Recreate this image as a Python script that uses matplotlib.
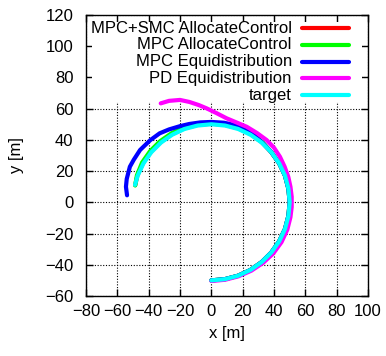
import numpy as np
import matplotlib.pyplot as plt
from matplotlib.patches import Rectangle

plt.rcParams['font.family'] = ['Liberation Sans', 'DejaVu Sans']

# trajectories (x, y in metres)
target_x = [0, 8.7, 17.1, 25, 32.1, 38.3, 43.3, 47.0, 49.2, 50, 49.2, 47.0, 43.3, 38.3, 32.1,
            25, 17.1, 8.7, 0, -8.7, -17.1, -25, -32.1, -38.3, -43.3, -47.0, -48.7]
target_y = [-50, -49.2, -47.0, -43.3, -38.3, -32.1, -25, -17.1, -8.7, 0, 8.7, 17.1, 25, 32.1, 38.3,
            43.3, 47.0, 49.2, 50, 49.2, 47.0, 43.3, 38.3, 32.1, 25, 17.1, 11.2]

smc_x = [0, 8.7, 17.1, 25, 32.1, 38.3, 43.3, 47.0, 49.2, 50, 49.2, 47.0, 43.3, 38.3, 32.3,
         25.2, 17.2, 8.8, 0, -8.8, -17.2, -25.2, -32.4, -38.6, -43.6, -47.2, -48.6]
smc_y = [-50, -49.2, -47.0, -43.3, -38.3, -32.1, -25, -17.1, -8.7, 0, 8.7, 17.1, 25, 32.1, 38.5,
         43.7, 47.4, 49.6, 50.4, 49.6, 47.4, 43.7, 38.6, 32.4, 25.2, 17.2, 11.0]

mpc_ac_x = [0, 8.7, 17.1, 25, 32.1, 38.3, 43.3, 47.0, 49.2, 50, 49.2, 47.0, 43.3, 38.3, 32.5,
            25.5, 17.4, 8.9, 0, -8.9, -17.4, -25.5, -32.8, -39.1, -44.2, -47.5, -48.6]
mpc_ac_y = [-50, -49.2, -47.0, -43.3, -38.3, -32.1, -25, -17.1, -8.7, 0, 8.7, 17.1, 25, 32.1, 38.7,
            44.2, 47.9, 50.2, 51, 50.2, 47.9, 44.2, 39.1, 32.8, 25.5, 17.3, 10.8]

mpc_eq_x = [0, 8.7, 17.1, 25, 32.1, 38.3, 43.3, 47.0, 49.2, 50, 49.2, 47.0, 43.3, 38.3, 33, 28, 22,
            15, 8, 0, -7, -14, -20, -27, -33, -39, -45.5, -49.5, -52, -54, -54.5, -53.8]
mpc_eq_y = [-50, -49.2, -47.0, -43.3, -38.3, -32.1, -25, -17.1, -8.7, 0, 8.7, 17.1, 25, 32.1, 37.8,
            42.4, 46.5, 49.5, 51.0, 51.5, 51.2, 50.2, 48.8, 46.7, 44.2, 39.8, 33.5, 27.3, 22.8, 15,
            10, 4.5]

pd_eq_x = [0, 8.8, 17.3, 25.5, 33, 39.5, 44.8, 48.5, 50.5, 51.3, 51.3, 50.5, 49.1, 46.8, 43.8, 40,
           35.3, 29, 22.6, 16, 9.8, 3, -3, -8, -14, -20, -27, -32.3]
pd_eq_y = [-50.4, -49.6, -47.4, -43.8, -38.8, -32.8, -25.5, -17.5, -9.5, -3, 3.6, 10, 16.4, 22.8,
           29.2, 35, 39.9, 44.5, 48.4, 51.2, 53.8, 57.3, 60.2, 62.3, 64.3, 65.6, 65.0, 63.4]

labels = ['MPC+SMC AllocateControl', 'MPC AllocateControl', 'MPC Equidistribution',
          'PD Equidistribution', 'target']
colors = ['#ff0000', '#00ff00', '#0000ff', '#ff00ff', '#00ffff']
series = [(smc_x, smc_y), (mpc_ac_x, mpc_ac_y), (mpc_eq_x, mpc_eq_y),
          (pd_eq_x, pd_eq_y), (target_x, target_y)]

fig = plt.figure(figsize=(3.86, 3.56), dpi=100)
ax = fig.add_axes([86 / 386, 1 - 296 / 356, 282 / 386, 281 / 356])

ax.set_xlim(-80, 100)
ax.set_ylim(-60, 120)
ax.set_xticks(np.arange(-80, 101, 20))
ax.set_yticks(np.arange(-60, 121, 20))
ax.tick_params(direction='in', length=5, width=1, top=True, right=True,
               labelsize=12, colors='black')
ax.tick_params(axis='y', pad=9)
ax.tick_params(axis='x', pad=6)
ax.grid(True, color='black', linestyle=(0, (1, 1.5)), linewidth=0.8)
ax.set_axisbelow(True)
for s in ax.spines.values():
    s.set_linewidth(1)

# opaque key area (hides the grid like gnuplot does)
ax.add_patch(Rectangle((0.022, 0.690), 0.956, 0.285, transform=ax.transAxes,
                       facecolor='white', edgecolor='none', zorder=1))

for (xs, ys), c in zip(series, colors):
    ax.plot(xs, ys, color=c, linewidth=3, solid_capstyle='round', zorder=2)

# key: right-aligned text, sample on the right
row_y = 0.953
for lab, c in zip(labels, colors):
    ax.text(0.730, row_y, lab, transform=ax.transAxes, ha='right', va='center',
            fontsize=12, zorder=3)
    ax.plot([0.766, 0.933], [row_y, row_y], transform=ax.transAxes, color=c,
            linewidth=3, solid_capstyle='round', zorder=3)
    row_y -= 0.0595

ax.set_xlabel('x [m]', fontsize=12, labelpad=5)
ax.set_ylabel('y [m]', fontsize=12, labelpad=15)

fig.savefig('out.png', dpi=100)
